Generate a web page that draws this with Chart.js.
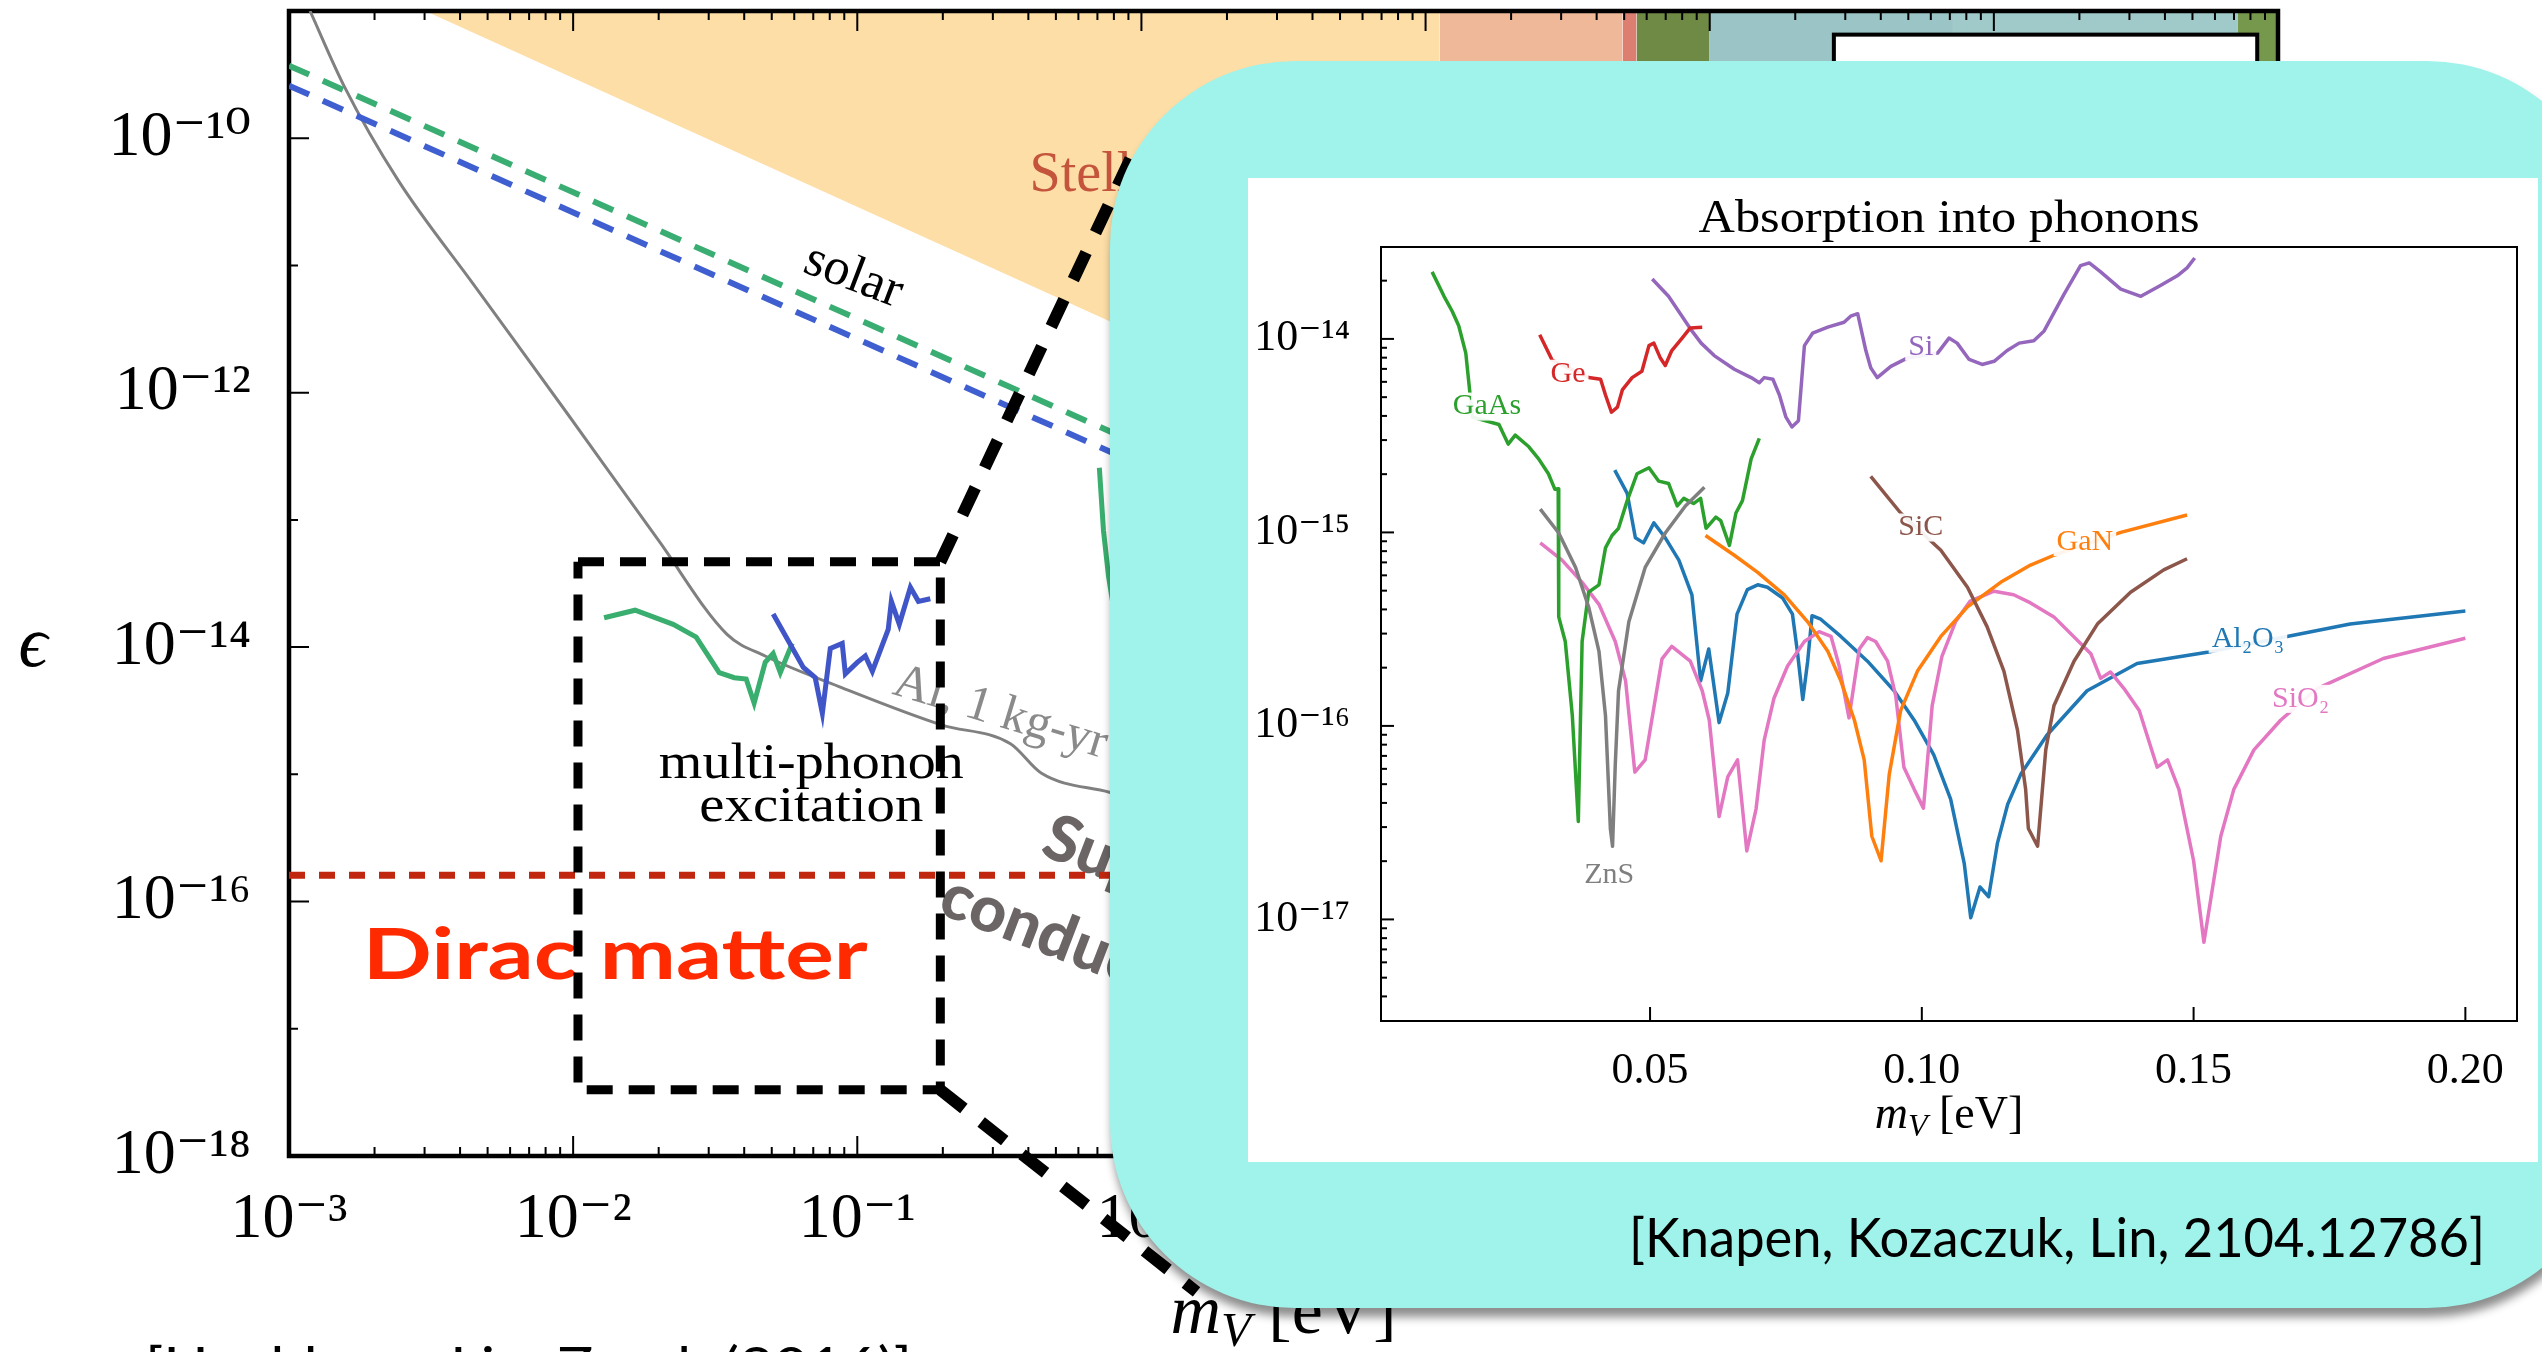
<!DOCTYPE html>
<html>
<head>
<meta charset="utf-8">
<script src="https://cdn.jsdelivr.net/npm/chart.js@4.4.1/dist/chart.umd.min.js"></script>
<style>
html,body{margin:0;padding:0;background:#fff;overflow:hidden;}
#stage{position:relative;width:2542px;height:1352px;overflow:hidden;background:#fff;}
#mainCanvas{position:absolute;left:0;top:0;}
#inset{position:absolute;left:1110px;top:61px;width:1502px;height:1247px;background:#9ff3ea;border-radius:185px;box-shadow:2px 9px 10px rgba(0,0,0,0.45);}
#panel{position:absolute;left:1248px;top:178px;width:1290px;height:984px;background:#fff;}
#insetCanvas{position:absolute;left:0;top:0;}
.cite{position:absolute;font-family:Lato,"Open Sans",sans-serif;font-size:55px;line-height:60px;color:#000;white-space:nowrap;transform-origin:0 0;}
</style>
</head>
<body>
<div id="stage">
  <canvas id="mainCanvas" width="2542" height="1352"></canvas>
  <div id="inset"></div>
  <div id="panel"><canvas id="insetCanvas" width="1290" height="984"></canvas></div>
  <div class="cite" id="citeInset" style="left:1629px;top:1206px;">[Knapen, Kozaczuk, Lin, 2104.12786]</div>
  <div class="cite" id="citeMain" style="left:145px;top:1335px;">[Hochberg, Lin, Zurek (2016)]</div>
</div>
<script>
// ================= MAIN CHART DATA (m_V in eV, epsilon) =================
const mainXTickValues = [1e-3, 1e-2, 1e-1, 1, 10, 100, 1e3, 1e4];
const mainXTickLabels = ['10⁻³', '10⁻²', '10⁻¹', '10⁰', '10¹', '10²', '10³', '10⁴'];
const mainYTickValues = [1e-18, 1e-17, 1e-16, 1e-15, 1e-14, 1e-13, 1e-12, 1e-11, 1e-10, 1e-9];
const mainYTickLabels = ['10⁻¹⁸', '', '10⁻¹⁶', '', '10⁻¹⁴', '', '10⁻¹²', '', '10⁻¹⁰', ''];

// stellar bound (upper-left shaded region)
const stellarX = [3.02e-3, 0.783, 11.2];
const stellarY = [1e-9, 3.6e-12, 2.5e-13];
// other excluded regions visible along the top edge
const bandLo = [11.2, 49.4, 55.3, 100, 718, 7228];
const bandHi = [49.4, 55.3, 100, 718, 7228, 1e4];
const bandTop = [1e-9, 1e-9, 1e-9, 1e-9, 1e-9, 1e-9];
// solar (dashed)
const solarX = [1e-3, 0.783, 10];
const solarGreenY = [3.72e-10, 4.9e-13, 3.9e-14];
const solarBlueY = [2.59e-10, 3.4e-13, 2.7e-14];
// Al, 1 kg-yr superconductor reach
const alX = [1.186e-3, 1.563e-3, 2.42e-3, 4.48e-3, 9.44e-3, 0.01995, 0.0348, 0.0474, 0.0885, 0.1977, 0.346, 0.445, 0.771, 3.16];
const alY = [1.0e-9, 2.57e-10, 4.68e-11, 7.0e-12, 7.08e-13, 6.92e-14, 1.26e-14, 8.51e-15, 4.79e-15, 2.45e-15, 1.74e-15, 1.02e-15, 7.24e-16, 3.2e-16];
// Dirac matter reach
const diracX = [1e-3, 1e4];
const diracY = [1.61e-16, 1.61e-16];
// multi-phonon curves
const mpGreenX = [0.01285, 0.01652, 0.02249, 0.0271, 0.03266, 0.0369, 0.04064, 0.04335, 0.04742, 0.05058, 0.05358, 0.05902];
const mpGreenY = [1.70e-14, 1.95e-14, 1.51e-14, 1.20e-14, 6.31e-15, 5.75e-15, 5.62e-15, 3.63e-15, 7.59e-15, 8.91e-15, 6.31e-15, 1.07e-14];
const mpBlueX = [0.05058, 0.06457, 0.07112, 0.07534, 0.08035, 0.08851, 0.09078, 0.1, 0.1067, 0.113, 0.1285, 0.1318, 0.1406, 0.1538, 0.1641, 0.1807];
const mpBlueY = [1.82e-14, 6.92e-15, 5.75e-15, 3.02e-15, 9.77e-15, 1.07e-14, 6.17e-15, 7.59e-15, 8.51e-15, 6.46e-15, 1.38e-14, 2.29e-14, 1.51e-14, 2.95e-14, 2.29e-14, 2.40e-14];
const edgeGreenX = [0.711, 0.735, 0.766, 0.791, 0.85];
const edgeGreenY = [2.57e-13, 8.3e-14, 3.6e-14, 2.3e-14, 5e-15];
// zoom box and zoom lines
const boxX = [0.0104, 0.196, 0.196, 0.0104, 0.0104];
const boxY = [4.68e-14, 4.68e-14, 3.31e-18, 3.31e-18, 4.68e-14];
const zoomTopX = [0.196, 0.914];
const zoomTopY = [4.68e-14, 6.9e-11];
const zoomBotX = [0.196, 1.563];
const zoomBotY = [3.31e-18, 8.55e-20];

// ================= INSET DATA (m_V in eV, epsilon) =================
const insetXTickValues = [0.05, 0.10, 0.15, 0.20];
const insetXTickLabels = ['0.05', '0.10', '0.15', '0.20'];
const insetYTickValues = [1e-17, 1e-16, 1e-15, 1e-14];
const insetYTickLabels = ['10⁻¹⁷', '10⁻¹⁶', '10⁻¹⁵', '10⁻¹⁴'];

const gaasX = [0.0099, 0.0121, 0.0136, 0.0148, 0.0161, 0.0168, 0.0173, 0.0222, 0.0239, 0.0252, 0.0277, 0.0295, 0.0313, 0.0325, 0.0331, 0.0332, 0.0344, 0.0357, 0.0368, 0.0375, 0.0387, 0.0406, 0.0418, 0.043, 0.0442, 0.0458, 0.0476, 0.0498, 0.0516, 0.0534, 0.055, 0.0562, 0.058, 0.0593, 0.0603, 0.0621, 0.063, 0.0646, 0.0658, 0.067, 0.0686, 0.0701];
const gaasY = [2.22e-14, 1.66e-14, 1.39e-14, 1.17e-14, 8.45e-15, 5.45e-15, 3.94e-15, 3.61e-15, 2.86e-15, 3.18e-15, 2.77e-15, 2.40e-15, 2.01e-15, 1.67e-15, 1.68e-15, 3.66e-16, 2.73e-16, 1.13e-16, 3.21e-17, 2.73e-16, 4.91e-16, 5.36e-16, 8.32e-16, 9.64e-16, 1.05e-15, 1.46e-15, 2.01e-15, 2.16e-15, 1.84e-15, 1.79e-15, 1.37e-15, 1.50e-15, 1.41e-15, 1.50e-15, 1.05e-15, 1.20e-15, 1.15e-15, 8.57e-16, 1.26e-15, 1.46e-15, 2.40e-15, 3.06e-15];
const geX = [0.0297, 0.032, 0.0387, 0.0409, 0.0418, 0.0429, 0.044, 0.0449, 0.0467, 0.0485, 0.0498, 0.0507, 0.0519, 0.0528, 0.054, 0.0559, 0.0574, 0.0596];
const geY = [1.05e-14, 7.76e-15, 6.31e-15, 6.19e-15, 5.13e-15, 4.18e-15, 4.44e-15, 5.45e-15, 6.31e-15, 6.81e-15, 9.23e-15, 9.51e-15, 7.96e-15, 7.29e-15, 8.71e-15, 1.01e-14, 1.14e-14, 1.15e-14];
const siX = [0.0504, 0.0534, 0.0577, 0.0594, 0.0618, 0.0655, 0.0686, 0.0701, 0.071, 0.0726, 0.0738, 0.075, 0.0761, 0.0773, 0.0784, 0.0799, 0.0827, 0.0857, 0.0869, 0.0882, 0.0897, 0.0906, 0.0918, 0.0943, 0.0973, 0.1029, 0.105, 0.1065, 0.1087, 0.1111, 0.1133, 0.1157, 0.1179, 0.1206, 0.1225, 0.1262, 0.1292, 0.1308, 0.1329, 0.1366, 0.1403, 0.1439, 0.147, 0.1488, 0.1502];
const siY = [2.04e-14, 1.66e-14, 1.10e-14, 9.51e-15, 8.20e-15, 6.97e-15, 6.31e-15, 5.94e-15, 6.31e-15, 6.19e-15, 5.13e-15, 3.94e-15, 3.51e-15, 3.78e-15, 9.23e-15, 1.07e-14, 1.15e-14, 1.22e-14, 1.31e-14, 1.35e-14, 8.71e-15, 7.10e-15, 6.31e-15, 7.21e-15, 7.96e-15, 8.45e-15, 1.01e-14, 9.51e-15, 7.83e-15, 7.38e-15, 7.66e-15, 8.71e-15, 9.51e-15, 9.79e-15, 1.10e-14, 1.71e-14, 2.39e-14, 2.47e-14, 2.22e-14, 1.81e-14, 1.66e-14, 1.89e-14, 2.12e-14, 2.33e-14, 2.62e-14];
const znsX = [0.0298, 0.0332, 0.0363, 0.0387, 0.0406, 0.0418, 0.0427, 0.0431, 0.0436, 0.0442, 0.0461, 0.0491, 0.0528, 0.0565, 0.06];
const znsY = [1.32e-15, 9.93e-16, 6.59e-16, 4.12e-16, 2.43e-16, 1.13e-16, 2.94e-17, 2.39e-17, 6.30e-17, 1.52e-16, 3.45e-16, 6.59e-16, 9.93e-16, 1.37e-15, 1.71e-15];
const al2o3X = [0.0435, 0.0458, 0.0473, 0.0488, 0.0507, 0.0528, 0.0553, 0.0577, 0.0593, 0.0608, 0.0627, 0.0643, 0.066, 0.0679, 0.0698, 0.0716, 0.0744, 0.0762, 0.0771, 0.0781, 0.079, 0.0798, 0.0814, 0.0851, 0.09, 0.0949, 0.0986, 0.1022, 0.1053, 0.1078, 0.109, 0.1107, 0.1123, 0.1139, 0.1158, 0.1182, 0.123, 0.1304, 0.1396, 0.1525, 0.1672, 0.1788, 0.2];
const al2o3Y = [2.10e-15, 1.59e-15, 9.38e-16, 8.83e-16, 1.12e-15, 9.38e-16, 7.19e-16, 4.76e-16, 1.71e-16, 2.50e-16, 1.04e-16, 1.48e-16, 3.78e-16, 5.06e-16, 5.36e-16, 5.21e-16, 4.58e-16, 3.78e-16, 2.43e-16, 1.37e-16, 2.16e-16, 3.71e-16, 3.56e-16, 2.90e-16, 2.16e-16, 1.52e-16, 1.07e-16, 7.08e-17, 4.18e-17, 1.95e-17, 1.02e-17, 1.47e-17, 1.31e-17, 2.47e-17, 3.94e-17, 5.62e-17, 8.95e-17, 1.52e-16, 2.10e-16, 2.40e-16, 2.90e-16, 3.36e-16, 3.93e-16];
const ganX = [0.0602, 0.0655, 0.0698, 0.0747, 0.079, 0.0827, 0.0851, 0.0876, 0.0894, 0.0908, 0.0925, 0.094, 0.0961, 0.0992, 0.1035, 0.1084, 0.1145, 0.12, 0.1243, 0.1366, 0.1488];
const ganY = [9.64e-16, 7.62e-16, 6.21e-16, 4.76e-16, 3.45e-16, 2.43e-16, 1.71e-16, 1.07e-16, 6.68e-17, 2.69e-17, 2.01e-17, 5.60e-17, 1.20e-16, 1.92e-16, 2.90e-16, 4.12e-16, 5.52e-16, 6.78e-16, 7.62e-16, 1.00e-15, 1.23e-15];
const sicX = [0.0906, 0.0961, 0.1035, 0.1084, 0.112, 0.1151, 0.1176, 0.1191, 0.1196, 0.1213, 0.1228, 0.1243, 0.128, 0.1323, 0.1384, 0.1445, 0.1488];
const sicY = [1.95e-15, 1.26e-15, 8.09e-16, 5.21e-16, 3.26e-16, 1.92e-16, 9.51e-17, 4.70e-17, 2.95e-17, 2.39e-17, 7.52e-17, 1.27e-16, 2.16e-16, 3.36e-16, 4.91e-16, 6.40e-16, 7.31e-16];
const sio2X = [0.0298, 0.0338, 0.0375, 0.0406, 0.0436, 0.0455, 0.0472, 0.0491, 0.0522, 0.054, 0.0574, 0.0596, 0.0609, 0.0627, 0.0643, 0.0661, 0.0678, 0.0695, 0.071, 0.0728, 0.0753, 0.0784, 0.0811, 0.0833, 0.0848, 0.0866, 0.0885, 0.09, 0.0915, 0.0937, 0.0952, 0.0967, 0.0986, 0.1003, 0.1019, 0.1037, 0.1062, 0.1089, 0.1133, 0.1169, 0.12, 0.1243, 0.1311, 0.1329, 0.1347, 0.1372, 0.14, 0.1433, 0.1452, 0.1473, 0.15, 0.1519, 0.155, 0.1574, 0.1611, 0.166, 0.1727, 0.1849, 0.2];
const sio2Y = [8.83e-16, 7.19e-16, 5.52e-16, 4.25e-16, 2.73e-16, 1.71e-16, 5.77e-17, 6.68e-17, 2.22e-16, 2.58e-16, 2.16e-16, 1.52e-16, 1.07e-16, 3.40e-17, 5.45e-17, 6.68e-17, 2.26e-17, 3.72e-17, 8.45e-17, 1.39e-16, 2.04e-16, 2.73e-16, 3.07e-16, 2.90e-16, 2.04e-16, 1.10e-16, 2.50e-16, 2.86e-16, 2.73e-16, 2.16e-16, 1.43e-16, 6.12e-17, 4.70e-17, 3.76e-17, 1.27e-16, 2.29e-16, 3.45e-16, 4.42e-16, 4.97e-16, 4.76e-16, 4.32e-16, 3.66e-16, 2.36e-16, 1.76e-16, 1.90e-16, 1.56e-16, 1.20e-16, 6.12e-17, 6.68e-17, 4.70e-17, 2.01e-17, 7.62e-18, 2.69e-17, 4.70e-17, 7.52e-17, 1.07e-16, 1.56e-16, 2.23e-16, 2.84e-16];

const insetLabels = ['GaAs', 'Ge', 'Si', 'SiC', 'GaN', 'Al₂O₃', 'SiO₂', 'ZnS'];
const insetLabelX = [0.020, 0.0349, 0.0998, 0.0998, 0.130, 0.160, 0.1697, 0.0425];
const insetLabelY = [4.47e-15, 6.61e-15, 9.12e-15, 1.06e-15, 8.91e-16, 2.82e-16, 1.38e-16, 1.70e-17];

// ================= STYLES =================
const SERIF = '"Liberation Serif", "DejaVu Serif", serif';
const bandColors = ['#efb899', '#dc7e70', '#6e8a45', '#9ac4c5', '#a0caca', '#76984c'];
const matColors = {GaAs:'#2ca02c', Ge:'#d62728', Si:'#9467bd', SiC:'#8c564b', GaN:'#ff7f0e', 'Al₂O₃':'#1f77b4', 'SiO₂':'#e377c2', ZnS:'#7f7f7f'};

const mainNotes = [
  {text:'solar', x:0.0968, y:8.18e-12, font:'52px ' + SERIF, color:'#000', rot:21},
  {text:'Al, 1 kg-yr', x:0.319, y:3.02e-15, font:'50px ' + SERIF, color:'#8a8a8a', rot:17},
  {text:'multi-phonon', x:0.0689, y:1.18e-15, font:'50px ' + SERIF, color:'#000', width:305},
  {text:'excitation', x:0.0689, y:5.42e-16, font:'50px ' + SERIF, color:'#000', width:224},
  {text:'Dirac matter', x:0.01406, y:3.72e-17, font:'bold 70px Lato', color:'#ff2a00', width:505},
  {text:'Super-', x:0.462, y:3.33e-16, font:'900 64px Lato', color:'#6b6565', rot:21, align:'left'},
  {text:'conductors', x:0.201, y:1.16e-16, font:'900 64px Lato', color:'#6b6565', rot:21, align:'left'},
  {text:'Stellar', x:0.404, y:3.87e-11, font:'56px ' + SERIF, color:'#c4553c', align:'left', baseline:'alphabetic'}
];

function pts(xs, ys) { return xs.map((x, i) => ({x: x, y: ys[i]})); }

function drawText(ctx, text, x, y, o) {
  ctx.save();
  ctx.translate(x, y);
  if (o.rot) ctx.rotate(o.rot * Math.PI / 180);
  ctx.font = o.font;
  ctx.fillStyle = o.color;
  ctx.textAlign = o.align || 'center';
  ctx.textBaseline = o.baseline || 'middle';
  if (o.width) { const w = ctx.measureText(text).width; ctx.scale(o.width / w, 1); }
  ctx.fillText(text, 0, 0);
  ctx.restore();
}

function drawMVLabel(ctx, cx, base, size) {
  ctx.save();
  ctx.fillStyle = '#000';
  ctx.textBaseline = 'alphabetic';
  ctx.textAlign = 'left';
  const fM = 'italic ' + size + 'px ' + SERIF;
  const fS = 'italic ' + Math.round(size * 0.7) + 'px ' + SERIF;
  const fR = size + 'px ' + SERIF;
  ctx.font = fM; const wM = ctx.measureText('m').width;
  ctx.font = fS; const wS = ctx.measureText('V').width;
  ctx.font = fR; const wR = ctx.measureText(' [eV]').width;
  let x = cx - (wM + wS + wR) / 2;
  ctx.font = fM; ctx.fillText('m', x, base); x += wM;
  ctx.font = fS; ctx.fillText('V', x, base + size * 0.18); x += wS;
  ctx.font = fR; ctx.fillText(' [eV]', x, base);
  ctx.restore();
}

// inward ticks + frame
function drawInTicks(chart, specs, tickW, frameW) {
  const ctx = chart.ctx, a = chart.chartArea;
  ctx.save();
  ctx.strokeStyle = '#000';
  ctx.lineWidth = tickW;
  specs.forEach(s => {
    const sc = chart.scales[s.id];
    sc.ticks.forEach(t => {
      const p = sc.getPixelForValue(t.value);
      const len = t.major ? s.major : s.minor;
      ctx.beginPath();
      s.sides.forEach(side => {
        if (side === 'bottom') { if (p < a.left - 1 || p > a.right + 1) return; ctx.moveTo(p, a.bottom); ctx.lineTo(p, a.bottom - len); }
        if (side === 'top') { if (p < a.left - 1 || p > a.right + 1) return; ctx.moveTo(p, a.top); ctx.lineTo(p, a.top + len); }
        if (side === 'left') { if (p < a.top - 1 || p > a.bottom + 1) return; ctx.moveTo(a.left, p); ctx.lineTo(a.left + len, p); }
        if (side === 'right') { if (p < a.top - 1 || p > a.bottom + 1) return; ctx.moveTo(a.right, p); ctx.lineTo(a.right - len, p); }
      });
      ctx.stroke();
    });
  });
  ctx.lineWidth = frameW;
  ctx.strokeRect(a.left, a.top, a.right - a.left, a.bottom - a.top);
  ctx.restore();
}

function logTicks(values, labels, withMinor) {
  const t = [];
  values.forEach((v, i) => {
    t.push({value: v, major: labels[i] !== '', lbl: labels[i]});
    if (withMinor && i < values.length - 1) {
      for (let k = 2; k <= 9; k++) t.push({value: v * k, major: false, lbl: ''});
    }
  });
  return t;
}
function noPad(s) { s.paddingTop = 0; s.paddingBottom = 0; s.paddingLeft = 0; s.paddingRight = 0; }

// ================= MAIN CHART =================
const mainLayers = []; // bottom -> top
bandLo.forEach((lo, i) => {
  mainLayers.push({data: pts([lo, bandHi[i]], [bandTop[i], bandTop[i]]), fill: 'start', backgroundColor: bandColors[i], borderWidth: 0});
});
mainLayers.push({data: pts(stellarX, stellarY), fill: 'end', backgroundColor: '#fddea7', borderWidth: 0});
mainLayers.push({data: pts(alX, alY), borderColor: '#808080', borderWidth: 3, cubicInterpolationMode: 'monotone'});
mainLayers.push({data: pts(solarX, solarGreenY), borderColor: '#3aae72', borderWidth: 6, borderDash: [22, 15]});
mainLayers.push({data: pts(solarX, solarBlueY), borderColor: '#3f5fd0', borderWidth: 6, borderDash: [22, 15]});
mainLayers.push({data: pts(diracX, diracY), borderColor: '#c1270f', borderWidth: 7, borderDash: [16, 14]});
mainLayers.push({data: pts(mpGreenX, mpGreenY), borderColor: '#3aae6e', borderWidth: 5});
mainLayers.push({data: pts(mpBlueX, mpBlueY), borderColor: '#3f55c8', borderWidth: 5});
mainLayers.push({data: pts(edgeGreenX, edgeGreenY), borderColor: '#3aae6e', borderWidth: 5});
mainLayers.push({data: pts(boxX, boxY), borderColor: '#000', borderWidth: 9, borderDash: [26, 16]});
mainLayers.push({data: pts(zoomTopX, zoomTopY), borderColor: '#000', borderWidth: 12, borderDash: [30, 22], clip: false});
mainLayers.push({data: pts(zoomBotX, zoomBotY), borderColor: '#000', borderWidth: 12, borderDash: [30, 22], clip: false});
mainLayers.forEach(d => { d.pointRadius = 0; if (d.tension === undefined) d.tension = 0; if (d.fill === undefined) d.fill = false; d.borderCapStyle = 'butt'; });

const mainDecor = {
  id: 'mainDecor',
  beforeDatasetsDraw(chart) {
    const ctx = chart.ctx, xs = chart.scales.x, ys = chart.scales.y;
    // legend box (top right, mostly hidden by the inset)
    const lx0 = xs.getPixelForValue(273.5), lx1 = xs.getPixelForValue(8450);
    const ly0 = ys.getPixelForValue(6.52e-10), ly1 = ys.getPixelForValue(1e-11);
    ctx.save();
    ctx.fillStyle = '#fff'; ctx.fillRect(lx0, ly0, lx1 - lx0, ly1 - ly0);
    ctx.lineWidth = 4; ctx.strokeStyle = '#000'; ctx.strokeRect(lx0, ly0, lx1 - lx0, ly1 - ly0);
    ctx.restore();
    drawInTicks(chart, [
      {id: 'x', sides: ['bottom', 'top'], major: 20, minor: 9},
      {id: 'y', sides: ['left', 'right'], major: 20, minor: 9}
    ], 2, 4.5);
    mainNotes.forEach(n => drawText(ctx, n.text, xs.getPixelForValue(n.x), ys.getPixelForValue(n.y), n));
  },
  afterDraw(chart) {
    const ctx = chart.ctx, a = chart.chartArea, ys = chart.scales.y;
    drawText(ctx, 'ϵ', 33, ys.getPixelForValue(1e-14), {font: 'italic 72px ' + SERIF, color: '#000'});
    drawMVLabel(ctx, (a.left + a.right) / 2, 1333, 70);
  }
};

new Chart(document.getElementById('mainCanvas'), {
  type: 'line',
  data: {datasets: mainLayers.slice().reverse()},
  options: {
    responsive: false, animation: false, events: [],
    layout: {padding: {top: 11, right: 264, left: 0, bottom: 0}},
    plugins: {legend: {display: false}, tooltip: {enabled: false}, title: {display: false}, filler: {drawTime: 'beforeDatasetsDraw'}},
    scales: {
      x: {
        type: 'logarithmic', min: 1e-3, max: 1e4, position: 'bottom',
        afterFit: s => { s.height = 196; noPad(s); },
        afterBuildTicks: s => { s.ticks = logTicks(mainXTickValues, mainXTickLabels, true); },
        grid: {display: false}, border: {display: false},
        ticks: {autoSkip: false, maxRotation: 0, minRotation: 0, padding: 18, color: '#000',
          font: {family: SERIF, size: 64}, callback: (v, i, t) => t[i].lbl || ''}
      },
      y: {
        type: 'logarithmic', min: 1e-18, max: 1e-9, position: 'left',
        afterFit: s => { s.width = 289; noPad(s); },
        afterBuildTicks: s => { s.ticks = logTicks(mainYTickValues, mainYTickLabels, false); },
        grid: {display: false}, border: {display: false},
        ticks: {autoSkip: false, padding: 30, color: '#000',
          font: {family: SERIF, size: 64}, callback: (v, i, t) => t[i].lbl || ''}
      }
    }
  },
  plugins: [mainDecor]
});

// ================= INSET CHART =================
const insetSeries = [
  ['ZnS', znsX, znsY], ['GaAs', gaasX, gaasY], ['Ge', geX, geY], ['Si', siX, siY],
  ['SiC', sicX, sicY], ['GaN', ganX, ganY], ['SiO₂', sio2X, sio2Y], ['Al₂O₃', al2o3X, al2o3Y]
];
const insetDatasets = insetSeries.map(s => ({
  label: s[0], data: pts(s[1], s[2]), borderColor: matColors[s[0]], borderWidth: 3.5,
  pointRadius: 0, tension: 0, fill: false, borderJoinStyle: 'round'
}));

const insetDecor = {
  id: 'insetDecor',
  beforeDatasetsDraw(chart) {
    drawInTicks(chart, [
      {id: 'x', sides: ['bottom'], major: 14, minor: 7},
      {id: 'y', sides: ['left'], major: 13, minor: 6}
    ], 2, 2);
  },
  afterDatasetsDraw(chart) {
    const ctx = chart.ctx, xs = chart.scales.x, ys = chart.scales.y, a = chart.chartArea;
    ctx.save();
    ctx.font = '30px ' + SERIF;
    insetLabels.forEach((t, i) => {
      const px = xs.getPixelForValue(insetLabelX[i]), py = ys.getPixelForValue(insetLabelY[i]);
      const w = ctx.measureText(t).width;
      ctx.fillStyle = 'rgba(255,255,255,0.92)';
      ctx.fillRect(px - w / 2 - 3, py - 14, w + 6, 28);
      ctx.fillStyle = matColors[t];
      ctx.textAlign = 'center'; ctx.textBaseline = 'middle';
      ctx.fillText(t, px, py);
    });
    ctx.restore();
    drawText(ctx, 'Absorption into phonons', (a.left + a.right) / 2, 54, {font: '46px ' + SERIF, color: '#000', baseline: 'alphabetic', width: 501});
    drawMVLabel(ctx, (a.left + a.right) / 2, 950, 46);
  }
};

new Chart(document.getElementById('insetCanvas'), {
  type: 'line',
  data: {datasets: insetDatasets},
  options: {
    responsive: false, animation: false, events: [],
    layout: {padding: {top: 69, right: 21, left: 0, bottom: 0}},
    plugins: {legend: {display: false}, tooltip: {enabled: false}, title: {display: false}},
    scales: {
      x: {
        type: 'linear', min: 0.0005, max: 0.2095, position: 'bottom',
        afterFit: s => { s.height = 141; noPad(s); },
        afterBuildTicks: s => { s.ticks = insetXTickValues.map((v, i) => ({value: v, major: true, lbl: insetXTickLabels[i]})); },
        grid: {display: false}, border: {display: false},
        ticks: {autoSkip: false, maxRotation: 0, minRotation: 0, padding: 16, color: '#000',
          font: {family: SERIF, size: 44}, callback: (v, i, t) => t[i].lbl || ''}
      },
      y: {
        type: 'logarithmic', min: Math.pow(10, -17.525), max: Math.pow(10, -13.525), position: 'left',
        afterFit: s => { s.width = 133; noPad(s); },
        afterBuildTicks: s => {
          const t = logTicks(insetYTickValues, insetYTickLabels, true);
          for (let k = 4; k <= 9; k++) t.push({value: k * 1e-18, major: false, lbl: ''});
          t.push({value: 2e-14, major: false, lbl: ''});
          s.ticks = t.sort((p, q) => p.value - q.value);
        },
        grid: {display: false}, border: {display: false},
        ticks: {autoSkip: false, padding: 23, color: '#000',
          font: {family: SERIF, size: 44}, callback: (v, i, t) => t[i].lbl || ''}
      }
    }
  },
  plugins: [insetDecor]
});

// fit citation widths
[['citeInset', 856], ['citeMain', 767]].forEach(([id, w]) => {
  const el = document.getElementById(id);
  const r = el.getBoundingClientRect();
  el.style.transform = 'scaleX(' + (w / r.width) + ')';
});
</script>
</body>
</html>
